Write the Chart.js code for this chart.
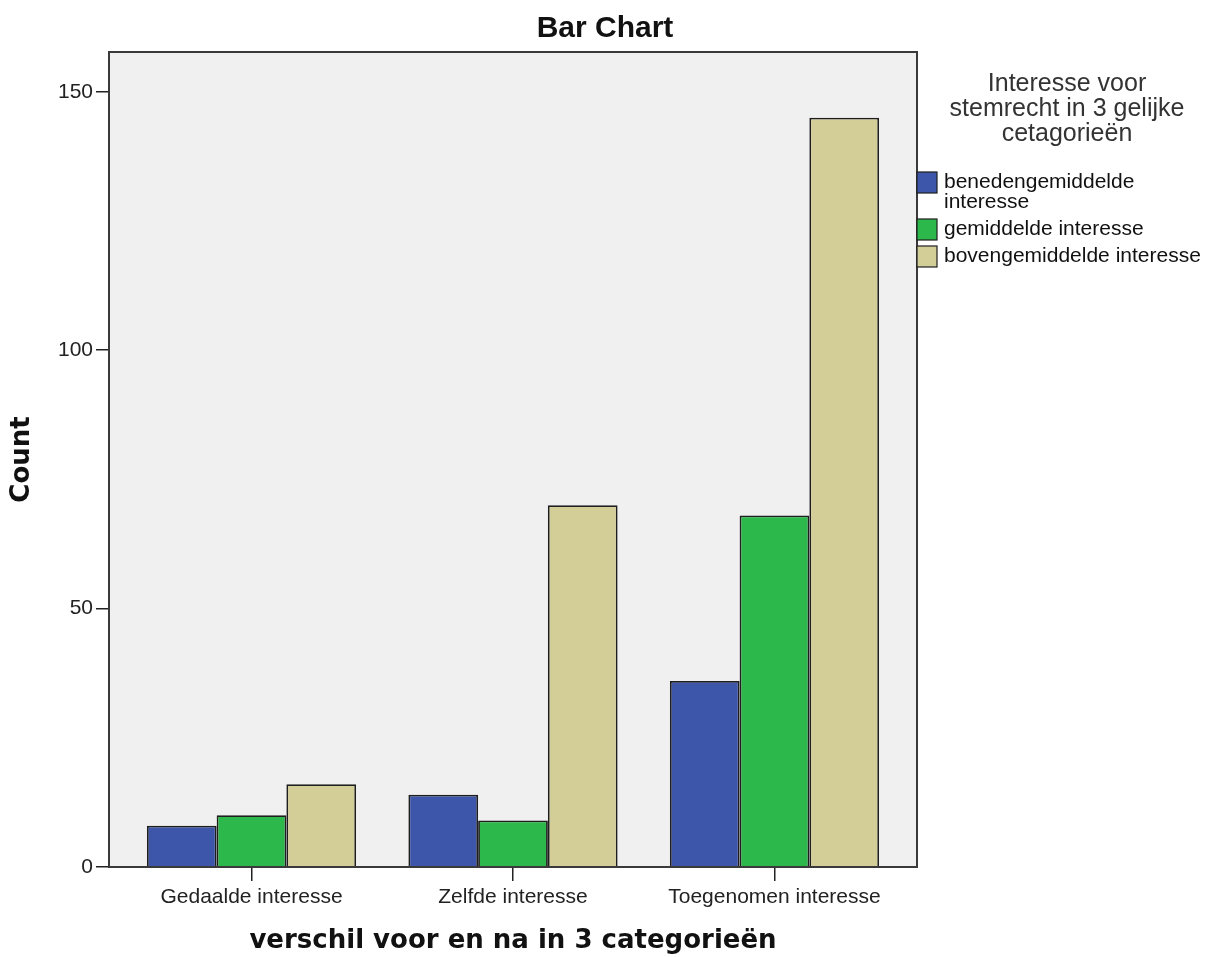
<!DOCTYPE html>
<html>
<head>
<meta charset="utf-8">
<script src="https://cdn.jsdelivr.net/npm/chart.js@4/dist/chart.umd.min.js"></script>
<style>
  html, body { margin: 0; padding: 0; background: #ffffff; }
  #wrap { width: 1221px; height: 957px; position: relative; }
</style>
</head>
<body>
<div id="wrap"><canvas id="c"></canvas></div>
<script>
// ---- data ----
const categories = ["Gedaalde interesse", "Zelfde interesse", "Toegenomen interesse"];
const seriesNames = ["benedengemiddelde interesse", "gemiddelde interesse", "bovengemiddelde interesse"];
const belowAverage = [8, 14, 36];
const average = [10, 9, 68];
const aboveAverage = [16, 70, 145];
const yTicks = [0, 50, 100, 150];
const yMax = 157.7;
const chartTitle = "Bar Chart";
const xTitle = "verschil voor en na in 3 categorieën";
const yTitle = "Count";
const legendTitle = ["Interesse voor", "stemrecht in 3 gelijke", "cetagorieën"];

const seriesValues = [belowAverage, average, aboveAverage];
const seriesColors = ["#3d56a9", "#2db84b", "#d3ce98"];

const datasets = seriesValues.map((vals, s) => ({
  label: seriesNames[s],
  data: vals.map((v, i) => ({ x: i, y: v })),
  backgroundColor: seriesColors[s],
  borderColor: "#1e1e1e",
  borderWidth: 1.8,
  categoryPercentage: 0.8,
  barPercentage: 1.0
}));

const decorPlugin = {
  id: "decor",
  beforeDatasetsDraw(chart) {
    const { ctx, chartArea: a } = chart;
    ctx.save();
    ctx.fillStyle = "#f0f0f0";
    ctx.fillRect(a.left, a.top, a.right - a.left, a.bottom - a.top);
    ctx.restore();
  },
  afterDraw(chart) {
    const { ctx, chartArea: a } = chart;
    ctx.save();
    // frame
    ctx.strokeStyle = "#3a3a3a";
    ctx.lineWidth = 2;
    ctx.strokeRect(a.left, a.top, a.right - a.left, a.bottom - a.top);

    // chart title
    ctx.fillStyle = "#111";
    ctx.font = "bold 30px 'Liberation Sans', Arial, sans-serif";
    ctx.textAlign = "center";
    ctx.textBaseline = "alphabetic";
    ctx.fillText(chartTitle, 605, 37);

    // legend title
    ctx.fillStyle = "#333";
    ctx.font = "25px 'Liberation Sans', Arial, sans-serif";
    legendTitle.forEach((line, i) => ctx.fillText(line, 1067, 91 + i * 25));

    // legend items
    ctx.font = "21px 'Liberation Sans', Arial, sans-serif";
    ctx.textAlign = "left";
    const textX = 944, maxW = 270, lineH = 20;
    let top = 172;
    chart.data.datasets.forEach((ds) => {
      const words = ds.label.split(" ");
      const lines = [];
      let cur = "";
      words.forEach(w => {
        const t = cur ? cur + " " + w : w;
        if (ctx.measureText(t).width > maxW && cur) { lines.push(cur); cur = w; }
        else cur = t;
      });
      lines.push(cur);
      ctx.fillStyle = ds.backgroundColor;
      ctx.fillRect(a.right, top, 20, 21);
      ctx.strokeStyle = "#1e1e1e";
      ctx.lineWidth = 1.2;
      ctx.strokeRect(a.right, top, 20, 21);
      ctx.fillStyle = "#111";
      lines.forEach((ln, j) => ctx.fillText(ln, textX, top + 10 + 6 + j * lineH));
      top += 21 + (lines.length - 1) * lineH + 6;
    });
    ctx.restore();
  }
};

new Chart(document.getElementById("c"), {
  type: "bar",
  data: { datasets },
  plugins: [decorPlugin],
  options: {
    responsive: true,
    maintainAspectRatio: false,
    animation: false,
    devicePixelRatio: 1,
    layout: { padding: { top: 52, right: 304, left: 0, bottom: 0 } },
    plugins: {
      legend: { display: false },
      title: { display: false },
      tooltip: { enabled: false }
    },
    scales: {
      x: {
        type: "linear",
        min: -0.545,
        max: 2.545,
        offset: false,
        afterFit(scale) { scale.height = 90; },
        afterBuildTicks(scale) {
          scale.ticks = categories.map((c, i) => ({ value: i }));
        },
        ticks: {
          stepSize: 1,
          autoSkip: false,
          maxRotation: 0,
          padding: 4,
          color: "#222",
          font: { family: "'Liberation Sans', Arial, sans-serif", size: 21 },
          callback: (v) => categories[v]
        },
        grid: { display: true, offset: false, drawOnChartArea: false, drawTicks: true, tickLength: 14, color: "#222", lineWidth: 1.5 },
        border: { display: true, color: "#111", width: 1.5 },
        title: {
          display: true,
          text: xTitle,
          color: "#111",
          font: { family: "'DejaVu Sans', Verdana, sans-serif", size: 26, weight: "bold" },
          padding: { top: 0, bottom: 0 }
        }
      },
      y: {
        min: 0,
        max: yMax,
        afterFit(scale) { scale.width = 109; },
        afterBuildTicks(scale) {
          scale.ticks = yTicks.map(v => ({ value: v }));
        },
        ticks: {
          stepSize: 50,
          padding: 3,
          color: "#222",
          font: { family: "'Liberation Sans', Arial, sans-serif", size: 21 }
        },
        grid: { display: true, drawOnChartArea: false, drawTicks: true, tickLength: 13, color: "#222", lineWidth: 1.5 },
        border: { display: true, color: "#111", width: 1.5 },
        title: {
          display: true,
          text: yTitle,
          color: "#111",
          font: { family: "'DejaVu Sans', Verdana, sans-serif", size: 26, weight: "bold" },
          padding: { top: 7, bottom: 0 }
        }
      }
    }
  }
});
</script>
</body>
</html>
